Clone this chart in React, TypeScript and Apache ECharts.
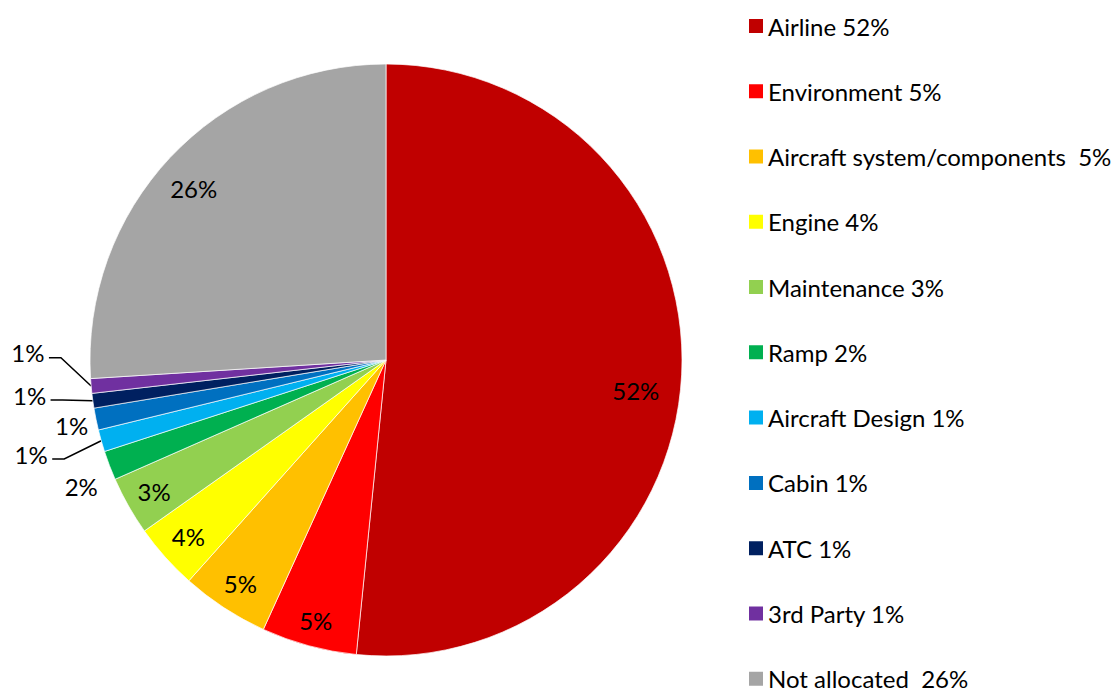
import React, { useEffect, useRef } from "react";
import * as echarts from "echarts";

const categories = [
  "Airline",
  "Environment",
  "Aircraft system/components",
  "Engine",
  "Maintenance",
  "Ramp",
  "Aircraft Design",
  "Cabin",
  "ATC",
  "3rd Party",
  "Not allocated",
];
const shares = [51.6, 5.2, 4.8, 3.6, 3.2, 1.6, 1.2, 1.2, 0.8, 0.8, 26.0];
const legendSeparators = [" ", " ", "  ", " ", " ", " ", " ", " ", " ", " ", "  "];
const colors = [
  "#C00000",
  "#FF0000",
  "#FFC000",
  "#FFFF00",
  "#92D050",
  "#00B050",
  "#00B0F0",
  "#0070C0",
  "#002060",
  "#7030A0",
  "#A5A5A5",
];

// label placement (style): radius factor and angular shift (deg) from slice middle
const labelRadius = [0.85, 0.91, 0.9, 0.895, 0.9, 1.115, 1.24, 1.085, 1.21, 1.21, 0.87];
const labelShift = [4, 0, 0, 0, 0, -1.7, 1.0, -0.3, 2.3, 6.2, -1.5];
const leader = [false, false, false, false, false, false, true, false, true, true, false];

const CX = 386;
const CY = 360;
const R = 296;
const FONT = "Lato, 'Noto Sans', sans-serif";

export default function App() {
  const ref = useRef<HTMLDivElement>(null);
  useEffect(() => {
    if (!ref.current) return;
    const chart = echarts.init(ref.current, null, { renderer: "svg" });
    const total = shares.reduce((a, b) => a + b, 0);
    const mids: number[] = [];
    let acc = 0;
    shares.forEach((v) => {
      mids.push(((acc + v / 2) / total) * 360);
      acc += v;
    });
    const polar = (deg: number, r: number) => {
      const a = (deg * Math.PI) / 180;
      return [CX + r * Math.sin(a), CY - r * Math.cos(a)];
    };
    const idx: Record<string, number> = {};
    categories.forEach((c, i) => (idx[c] = i));

    chart.setOption({
      animation: false,
      legend: {
        orient: "vertical",
        left: 742,
        top: 9,
        height: 720,
        padding: 5,
        itemWidth: 16,
        itemHeight: 16,
        itemGap: 41.27,
        icon: "rect",
        selectedMode: false,
        textStyle: { fontFamily: FONT, fontSize: 24, color: "#000", padding: [0, 0, 0, -1] },
        formatter: (name: string) => {
          const i = idx[name];
          return `${name}${legendSeparators[i]}${Math.round(shares[i])}%`;
        },
        data: categories,
      },
      series: [
        {
          type: "pie",
          center: [CX, CY],
          radius: R,
          startAngle: 90,
          clockwise: true,
          avoidLabelOverlap: false,
          itemStyle: { borderColor: "#ffffff", borderWidth: 0.7 },
          label: {
            show: true,
            position: "outside",
            fontFamily: FONT,
            fontSize: 24,
            color: "#000",
            formatter: (p: any) => `${Math.round(p.value)}%`,
          },
          labelLine: { show: false, lineStyle: { color: "#000", width: 1.5 } },
          labelLayout: (p: any) => {
            const i = p.dataIndex;
            const [x, y] = polar(mids[i] + labelShift[i], R * labelRadius[i]);
            const res: any = { x, y, align: "center", verticalAlign: "middle" };
            if (leader[i]) {
              const end = polar(mids[i], R);
              res.labelLinePoints = [
                [x + 21, y + 5],
                [x + 33, y + 5],
                end,
              ];
            }
            return res;
          },
          data: categories.map((name, i) => ({
            name,
            value: shares[i],
            itemStyle: { color: colors[i] },
            labelLine: { show: leader[i] },
          })),
        },
      ],
    });
    return () => chart.dispose();
  }, []);
  return (
    <div
      ref={ref}
      style={{ position: "fixed", left: 0, top: 0, width: 1120, height: 688, background: "#fff" }}
    />
  );
}
